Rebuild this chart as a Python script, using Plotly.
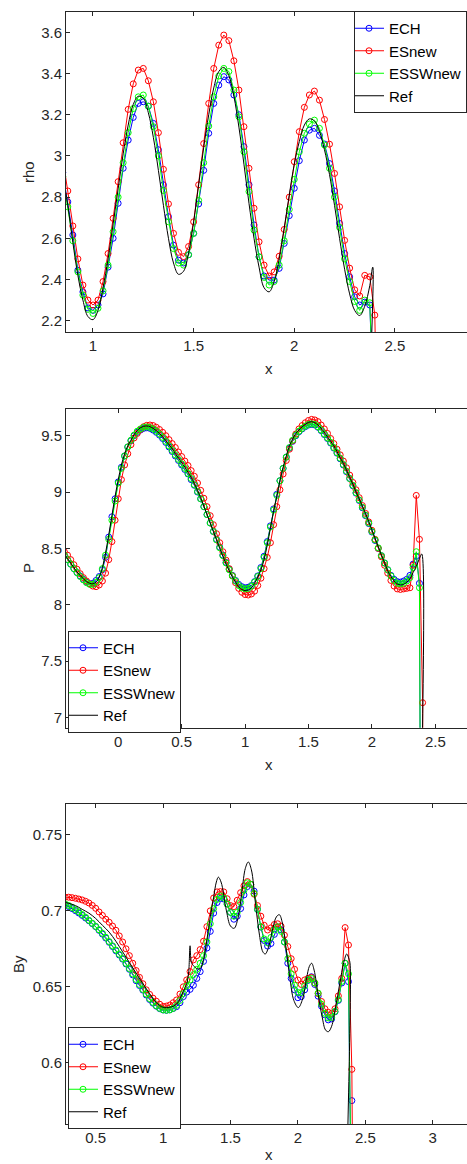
import plotly.graph_objects as go

# ---------------- data ----------------
series_names = ["ECH", "ESnew", "ESSWnew"]
series_colors = ["#0000ff", "#ff0000", "#00ff00"]

# ---- density rho ----
rho_x = [0.85, 0.875, 0.9, 0.925, 0.95, 0.975,
         1.0, 1.025, 1.05, 1.075, 1.1, 1.125, 1.15, 1.175,
         1.2, 1.225, 1.25, 1.275, 1.3, 1.325, 1.35, 1.375,
         1.4, 1.425, 1.45, 1.475, 1.5, 1.525, 1.55, 1.575,
         1.6, 1.625, 1.65, 1.675, 1.7, 1.725, 1.75, 1.775,
         1.8, 1.825, 1.85, 1.875, 1.9, 1.925, 1.95, 1.975,
         2.0, 2.025, 2.05, 2.075, 2.1, 2.125, 2.15, 2.175,
         2.2, 2.225, 2.25, 2.275, 2.3, 2.325, 2.35, 2.375,
         2.4, 2.425]
rho_ech = [2.92, 2.777, 2.616, 2.445, 2.34, 2.262,
           2.25, 2.276, 2.33, 2.46, 2.60, 2.77, 2.94, 3.077,
           3.187, 3.255, 3.263, 3.242, 3.158, 3.03, 2.86, 2.705,
           2.567, 2.494, 2.48, 2.52, 2.624, 2.767, 2.93, 3.11,
           3.255, 3.344, 3.385, 3.369, 3.296, 3.2, 3.045, 2.86,
           2.665, 2.51, 2.417, 2.397, 2.397, 2.454, 2.575, 2.71,
           2.843, 2.977, 3.077, 3.125, 3.134, 3.10, 3.058, 2.963,
           2.83, 2.672, 2.526, 2.413, 2.316, 2.276, 2.29, 2.276,
           1.2, 1.0]
rho_esnew = [2.99, 2.83, 2.66, 2.50, 2.373, 2.30,
             2.276, 2.30, 2.39, 2.526, 2.697, 2.875, 3.064, 3.226,
             3.35, 3.417, 3.425, 3.365, 3.263, 3.113, 2.935, 2.767,
             2.624, 2.532, 2.511, 2.56, 2.68, 2.86, 3.06, 3.255,
             3.425, 3.538, 3.587, 3.56, 3.462, 3.32, 3.142, 2.94,
             2.746, 2.583, 2.47, 2.417, 2.437, 2.513, 2.643, 2.80,
             2.972, 3.118, 3.236, 3.296, 3.315, 3.271, 3.177, 3.057,
             2.915, 2.753, 2.59, 2.455, 2.35, 2.32, 2.42, 2.413,
             2.227, 1.0]
rho_esswnew = [2.90, 2.753, 2.588, 2.437, 2.324, 2.255,
               2.235, 2.26, 2.345, 2.47, 2.632, 2.80, 2.967, 3.113,
               3.23, 3.287, 3.296, 3.241, 3.142, 3.0, 2.832, 2.68,
               2.55, 2.48, 2.47, 2.52, 2.624, 2.784, 2.967, 3.145,
               3.287, 3.388, 3.425, 3.41, 3.32, 3.19, 3.02, 2.827,
               2.64, 2.51, 2.41, 2.373, 2.39, 2.47, 2.588, 2.74,
               2.886, 3.02, 3.11, 3.155, 3.174, 3.134, 3.053, 2.94,
               2.80, 2.653, 2.50, 2.39, 2.293, 2.25, 2.30, 2.287,
               1.2, 1.0]
rho_ref_x = [0.85, 0.875, 0.9, 0.925, 0.95, 0.975,
             1.0, 1.025, 1.05, 1.075, 1.1, 1.125, 1.15, 1.175,
             1.2, 1.225, 1.25, 1.275, 1.3, 1.325, 1.35, 1.375,
             1.4, 1.425, 1.45, 1.475, 1.5, 1.525, 1.55, 1.575,
             1.6, 1.625, 1.65, 1.675, 1.7, 1.725, 1.75, 1.775,
             1.8, 1.825, 1.85, 1.875, 1.9, 1.925, 1.95, 1.975,
             2.0, 2.025, 2.05, 2.075, 2.1, 2.125, 2.15, 2.175,
             2.2, 2.225, 2.25, 2.275, 2.3, 2.325, 2.35, 2.375,
             2.39, 2.392, 2.425]
rho_ref = [2.90, 2.76, 2.58, 2.42, 2.30, 2.22,
           2.205, 2.25, 2.36, 2.50, 2.67, 2.84, 3.01, 3.15,
           3.25, 3.29, 3.28, 3.21, 3.09, 2.93, 2.76, 2.60,
           2.48, 2.425, 2.44, 2.53, 2.68, 2.86, 3.04, 3.20,
           3.33, 3.41, 3.43, 3.39, 3.29, 3.14, 2.96, 2.77,
           2.60, 2.46, 2.36, 2.34, 2.39, 2.50, 2.65, 2.81,
           2.96, 3.07, 3.15, 3.18, 3.17, 3.12, 3.03, 2.91,
           2.76, 2.60, 2.45, 2.33, 2.25, 2.225, 2.27, 2.37,
           2.46, 1.0, 1.0]

# ---- pressure P ----
p_x = [-0.425, -0.4, -0.375, -0.35, -0.325, -0.3, -0.275, -0.25, -0.225,
       -0.2, -0.175, -0.15, -0.125, -0.1, -0.075, -0.05, -0.025,
       0.0, 0.025, 0.05, 0.075, 0.1, 0.125, 0.15, 0.175,
       0.2, 0.225, 0.25, 0.275, 0.3, 0.325, 0.35, 0.375,
       0.4, 0.425, 0.45, 0.475, 0.5, 0.525, 0.55, 0.575,
       0.6, 0.625, 0.65, 0.675, 0.7, 0.725, 0.75, 0.775,
       0.8, 0.825, 0.85, 0.875, 0.9, 0.925, 0.95, 0.975,
       1.0, 1.025, 1.05, 1.075, 1.1, 1.125, 1.15, 1.175,
       1.2, 1.225, 1.25, 1.275, 1.3, 1.325, 1.35, 1.375,
       1.4, 1.425, 1.45, 1.475, 1.5, 1.525, 1.55, 1.575,
       1.6, 1.625, 1.65, 1.675, 1.7, 1.725, 1.75, 1.775,
       1.8, 1.825, 1.85, 1.875, 1.9, 1.925, 1.95, 1.975,
       2.0, 2.025, 2.05, 2.075, 2.1, 2.125, 2.15, 2.175,
       2.2, 2.225, 2.25, 2.275, 2.3, 2.325, 2.35, 2.375,
       2.4, 2.425]
p_ech = [8.44, 8.40, 8.36, 8.32, 8.285, 8.255, 8.225, 8.20, 8.185,
         8.19, 8.215, 8.25, 8.31, 8.42, 8.60, 8.78, 8.94,
         9.09, 9.22, 9.32, 9.40, 9.455, 9.50, 9.53, 9.55,
         9.565, 9.57, 9.565, 9.55, 9.53, 9.505, 9.475, 9.44,
         9.40, 9.36, 9.32, 9.28, 9.24, 9.20, 9.16, 9.11,
         9.06, 9.00, 8.94, 8.87, 8.80, 8.725, 8.65, 8.58,
         8.51, 8.44, 8.375, 8.315, 8.26, 8.215, 8.18, 8.16,
         8.15, 8.155, 8.17, 8.205, 8.255, 8.33, 8.43, 8.56,
         8.70, 8.85, 8.98, 9.10, 9.21, 9.31, 9.39, 9.45,
         9.50, 9.535, 9.56, 9.58, 9.595, 9.60, 9.595, 9.575,
         9.545, 9.51, 9.475, 9.435, 9.39, 9.345, 9.295, 9.24,
         9.18, 9.12, 9.055, 8.99, 8.925, 8.86, 8.79, 8.72,
         8.645, 8.57, 8.50, 8.435, 8.37, 8.31, 8.26, 8.225,
         8.205, 8.20, 8.21, 8.225, 8.26, 8.36, 8.43, 8.19,
         1.5, 1.0]
p_esnew = [8.47, 8.44, 8.40, 8.355, 8.315, 8.275, 8.24, 8.21, 8.185,
           8.165, 8.16, 8.175, 8.21, 8.28, 8.40, 8.56, 8.75,
           8.94, 9.11, 9.24, 9.34, 9.42, 9.48, 9.52, 9.555,
           9.58, 9.592, 9.595, 9.59, 9.575, 9.555, 9.53, 9.50,
           9.465, 9.43, 9.395, 9.355, 9.315, 9.275, 9.235, 9.19,
           9.14, 9.08, 9.015, 8.945, 8.87, 8.79, 8.71, 8.63,
           8.55, 8.47, 8.395, 8.32, 8.255, 8.195, 8.145, 8.11,
           8.09, 8.086, 8.095, 8.12, 8.17, 8.235, 8.32, 8.42,
           8.55, 8.71, 8.87, 9.02, 9.16, 9.28, 9.38, 9.455,
           9.515, 9.56, 9.59, 9.615, 9.635, 9.645, 9.64, 9.625,
           9.595, 9.56, 9.52, 9.475, 9.43, 9.38, 9.33, 9.275,
           9.215, 9.15, 9.085, 9.02, 8.95, 8.88, 8.81, 8.735,
           8.66, 8.58, 8.50, 8.425, 8.35, 8.28, 8.215, 8.165,
           8.14, 8.135, 8.14, 8.145, 8.15, 8.35, 8.97, 8.58,
           7.13, 1.0]
p_esswnew = [8.44, 8.40, 8.36, 8.32, 8.285, 8.25, 8.22, 8.195, 8.18,
             8.18, 8.20, 8.24, 8.32, 8.44, 8.58, 8.75, 8.92,
             9.08, 9.21, 9.32, 9.40, 9.46, 9.505, 9.54, 9.56,
             9.575, 9.578, 9.572, 9.56, 9.54, 9.515, 9.485, 9.45,
             9.41, 9.37, 9.33, 9.29, 9.25, 9.21, 9.165, 9.12,
             9.065, 9.005, 8.94, 8.87, 8.80, 8.725, 8.65, 8.575,
             8.505, 8.435, 8.37, 8.31, 8.255, 8.21, 8.17, 8.15,
             8.14, 8.145, 8.165, 8.20, 8.25, 8.32, 8.42, 8.55,
             8.69, 8.84, 8.97, 9.10, 9.21, 9.31, 9.395, 9.46,
             9.505, 9.54, 9.565, 9.585, 9.60, 9.605, 9.60, 9.58,
             9.55, 9.515, 9.48, 9.44, 9.395, 9.35, 9.30, 9.245,
             9.185, 9.12, 9.06, 8.995, 8.93, 8.865, 8.795, 8.725,
             8.65, 8.575, 8.505, 8.435, 8.37, 8.31, 8.255, 8.215,
             8.19, 8.185, 8.19, 8.21, 8.24, 8.33, 8.47, 8.15,
             1.5, 1.0]
p_ref_x = [-0.425, -0.4, -0.375, -0.35, -0.325, -0.3, -0.275, -0.25, -0.225,
           -0.2, -0.175, -0.15, -0.125, -0.1, -0.075, -0.05, -0.025,
           0.0, 0.025, 0.05, 0.075, 0.1, 0.125, 0.15, 0.175,
           0.2, 0.225, 0.25, 0.275, 0.3, 0.325, 0.35, 0.375,
           0.4, 0.425, 0.45, 0.475, 0.5, 0.525, 0.55, 0.575,
           0.6, 0.625, 0.65, 0.675, 0.7, 0.725, 0.75, 0.775,
           0.8, 0.825, 0.85, 0.875, 0.9, 0.925, 0.95, 0.975,
           1.0, 1.025, 1.05, 1.075, 1.1, 1.125, 1.15, 1.175,
           1.2, 1.225, 1.25, 1.275, 1.3, 1.325, 1.35, 1.375,
           1.4, 1.425, 1.45, 1.475, 1.5, 1.525, 1.55, 1.575,
           1.6, 1.625, 1.65, 1.675, 1.7, 1.725, 1.75, 1.775,
           1.8, 1.825, 1.85, 1.875, 1.9, 1.925, 1.95, 1.975,
           2.0, 2.025, 2.05, 2.075, 2.1, 2.125, 2.15, 2.175,
           2.2, 2.225, 2.25, 2.275, 2.3, 2.325, 2.35, 2.375,
           2.393, 2.395, 2.425]
p_ref = [8.45, 8.41, 8.37, 8.33, 8.29, 8.26, 8.23, 8.205, 8.19,
         8.185, 8.20, 8.245, 8.33, 8.46, 8.62, 8.79, 8.96,
         9.11, 9.24, 9.34, 9.41, 9.46, 9.51, 9.545, 9.57,
         9.583, 9.586, 9.58, 9.565, 9.545, 9.52, 9.49, 9.455,
         9.42, 9.385, 9.34, 9.30, 9.26, 9.22, 9.175, 9.13,
         9.075, 9.015, 8.95, 8.875, 8.80, 8.725, 8.65, 8.575,
         8.50, 8.43, 8.36, 8.30, 8.245, 8.20, 8.16, 8.135,
         8.125, 8.13, 8.15, 8.19, 8.245, 8.31, 8.40, 8.53,
         8.68, 8.83, 8.96, 9.10, 9.22, 9.32, 9.41, 9.47,
         9.52, 9.55, 9.58, 9.60, 9.618, 9.624, 9.615, 9.595,
         9.565, 9.53, 9.49, 9.45, 9.41, 9.36, 9.305, 9.255,
         9.195, 9.13, 9.07, 9.00, 8.94, 8.875, 8.81, 8.74,
         8.665, 8.59, 8.515, 8.44, 8.375, 8.30, 8.25, 8.21,
         8.185, 8.175, 8.18, 8.20, 8.23, 8.285, 8.34, 8.41,
         8.45, 1.0, 1.0]

# ---- magnetic field By ----
by_x = [0.275, 0.3, 0.325, 0.35, 0.375,
        0.4, 0.425, 0.45, 0.475, 0.5, 0.525, 0.55, 0.575,
        0.6, 0.625, 0.65, 0.675, 0.7, 0.725, 0.75, 0.775,
        0.8, 0.825, 0.85, 0.875, 0.9, 0.925, 0.95, 0.975,
        1.0, 1.025, 1.05, 1.075, 1.1, 1.125, 1.15, 1.175,
        1.2, 1.225, 1.25, 1.275, 1.3, 1.325, 1.35, 1.375,
        1.4, 1.425, 1.45, 1.475, 1.5, 1.525, 1.55, 1.575,
        1.6, 1.625, 1.65, 1.675, 1.7, 1.725, 1.75, 1.775,
        1.8, 1.825, 1.85, 1.875, 1.9, 1.925, 1.95, 1.975,
        2.0, 2.025, 2.05, 2.075, 2.1, 2.125, 2.15, 2.175,
        2.2, 2.225, 2.25, 2.275, 2.3, 2.325, 2.35, 2.375,
        2.4, 2.425]
by_ech = [0.704, 0.7028, 0.7015, 0.7001, 0.6986,
          0.697, 0.6953, 0.6935, 0.6916, 0.6896, 0.6872, 0.6847, 0.6821,
          0.6793, 0.6765, 0.6737, 0.6709, 0.6682, 0.665, 0.6615, 0.6578,
          0.654, 0.6508, 0.6478, 0.6446, 0.6416, 0.6392, 0.6372, 0.6356,
          0.6347, 0.6345, 0.6348, 0.6357, 0.6369, 0.6395, 0.6435, 0.6465,
          0.6483, 0.651, 0.6555, 0.66, 0.6667, 0.6755, 0.6865, 0.6985,
          0.7055, 0.7082, 0.7078, 0.7045, 0.699, 0.6945, 0.6965, 0.7015,
          0.7105, 0.716, 0.7175, 0.713, 0.701, 0.6893, 0.6805, 0.6768,
          0.6785, 0.6845, 0.6893, 0.6875, 0.6795, 0.6655, 0.6555, 0.648,
          0.6428, 0.6435, 0.648, 0.6542, 0.6566, 0.6515, 0.6438, 0.6372,
          0.6315, 0.6282, 0.6288, 0.6335, 0.641, 0.6525, 0.6655, 0.6534,
          0.575, 0.3]
by_esnew = [0.709, 0.709, 0.7087, 0.7083, 0.7078,
            0.7072, 0.7063, 0.7052, 0.7036, 0.7017, 0.6993, 0.697, 0.6945,
            0.6925, 0.69, 0.6872, 0.6835, 0.6795, 0.675, 0.6705, 0.6655,
            0.6607, 0.6562, 0.652, 0.648, 0.645, 0.6425, 0.6405, 0.6385,
            0.637, 0.6373, 0.638, 0.6395, 0.6413, 0.6452, 0.65, 0.6545,
            0.66, 0.6677, 0.6705, 0.6745, 0.68, 0.6896, 0.700, 0.7085,
            0.7125, 0.7127, 0.7125, 0.708, 0.7035, 0.7028, 0.707, 0.712,
            0.7165, 0.7193, 0.7175, 0.711, 0.7035, 0.6965, 0.6905, 0.6874,
            0.6888, 0.691, 0.6915, 0.6899, 0.684, 0.6765, 0.6685, 0.6615,
            0.6545, 0.6515, 0.6545, 0.6555, 0.6562, 0.6525, 0.6455, 0.6403,
            0.6355, 0.6332, 0.6325, 0.6355, 0.644, 0.6555, 0.689, 0.6775,
            0.5956, 0.3]
by_esswnew = [0.7045, 0.7035, 0.7022, 0.7008, 0.6993,
              0.6976, 0.6958, 0.6938, 0.6918, 0.6898, 0.6876, 0.6852, 0.6826,
              0.6798, 0.677, 0.6742, 0.6714, 0.6686, 0.6654, 0.662, 0.6585,
              0.6548, 0.6515, 0.6483, 0.6452, 0.6422, 0.6397, 0.6375, 0.6358,
              0.6348, 0.6345, 0.6348, 0.6358, 0.6378, 0.641, 0.6455, 0.6505,
              0.6545, 0.658, 0.6615, 0.6655, 0.6705, 0.6795, 0.6915, 0.7015,
              0.7075, 0.7098, 0.7085, 0.7045, 0.699, 0.6965, 0.699, 0.7055,
              0.7135, 0.7185, 0.7175, 0.7115, 0.701, 0.6895, 0.6815, 0.679,
              0.6825, 0.6875, 0.6895, 0.6865, 0.6795, 0.6685, 0.6585, 0.651,
              0.6462, 0.6462, 0.6505, 0.6545, 0.6555, 0.6525, 0.6458, 0.6385,
              0.6325, 0.6295, 0.6298, 0.6338, 0.6415, 0.6535, 0.6655, 0.6585,
              0.35, 0.3]
by_ref_x = [0.275, 0.3, 0.35, 0.4, 0.45, 0.5, 0.55, 0.6, 0.65, 0.7,
            0.75, 0.8, 0.85, 0.9, 0.95, 1.0, 1.05, 1.1, 1.15, 1.175,
            1.19, 1.2, 1.21, 1.225, 1.25, 1.275, 1.3, 1.325, 1.35, 1.375,
            1.395, 1.41, 1.43, 1.47, 1.5, 1.527, 1.555, 1.585, 1.61, 1.632,
            1.655, 1.685, 1.715, 1.74, 1.758, 1.785, 1.815, 1.84, 1.862, 1.885,
            1.91, 1.94, 1.97, 2.003, 2.035, 2.065, 2.085, 2.102, 2.12, 2.15,
            2.18, 2.205, 2.226, 2.25, 2.28, 2.31, 2.34, 2.362, 2.38, 2.387,
            2.389, 2.425]
by_ref = [0.7055, 0.705, 0.7035, 0.701, 0.6985, 0.695, 0.6905, 0.686, 0.680, 0.673,
          0.666, 0.659, 0.652, 0.6455, 0.6395, 0.6365, 0.6365, 0.6385, 0.647, 0.652,
          0.660, 0.677, 0.666, 0.664, 0.662, 0.662, 0.668, 0.681, 0.696, 0.709,
          0.719, 0.7222, 0.719, 0.700, 0.690, 0.6885, 0.695, 0.713, 0.728, 0.7322,
          0.727, 0.705, 0.684, 0.673, 0.6716, 0.677, 0.689, 0.696, 0.6975, 0.692,
          0.677, 0.656, 0.641, 0.6363, 0.642, 0.656, 0.6635, 0.6655, 0.661, 0.645,
          0.630, 0.6215, 0.6204, 0.624, 0.637, 0.652, 0.666, 0.6716, 0.668, 0.665,
          0.3, 0.3]

# tick labels
rho_xticks = [1, 1.5, 2, 2.5]
rho_yticks = [2.2, 2.4, 2.6, 2.8, 3.0, 3.2, 3.4, 3.6]
rho_yticklabels = ["2.2", "2.4", "2.6", "2.8", "3", "3.2", "3.4", "3.6"]
p_xticks = [0, 0.5, 1, 1.5, 2, 2.5]
p_yticks = [7, 7.5, 8, 8.5, 9, 9.5]
p_yticklabels = ["7", "7.5", "8", "8.5", "9", "9.5"]
by_xticks = [0.5, 1, 1.5, 2, 2.5, 3]
by_yticks = [0.6, 0.65, 0.7, 0.75]
by_yticklabels = ["0.6", "0.65", "0.7", "0.75"]

# ---------------- figure ----------------
W, H = 467, 1164
FONT = "Liberation Sans, Arial, Helvetica, sans-serif"
AX = "#262626"

fig = go.Figure()


def add_panel(xs, ys_list, refx, refy, xa, ya, leg):
    for name, color, ys in zip(series_names, series_colors, ys_list):
        fig.add_trace(go.Scatter(
            x=xs, y=ys, name=name, mode="lines+markers",
            line=dict(color=color, width=1),
            marker=dict(symbol="circle-open", size=6, color=color,
                        line=dict(width=1, color=color)),
            xaxis=xa, yaxis=ya, legend=leg))
    fig.add_trace(go.Scatter(
        x=refx, y=refy, name="Ref", mode="lines",
        line=dict(color="black", width=1, shape="spline"),
        xaxis=xa, yaxis=ya, legend=leg))


add_panel(rho_x, [rho_ech, rho_esnew, rho_esswnew], rho_ref_x, rho_ref, "x", "y", "legend")
add_panel(p_x, [p_ech, p_esnew, p_esswnew], p_ref_x, p_ref, "x2", "y2", "legend2")
add_panel(by_x, [by_ech, by_esnew, by_esswnew], by_ref_x, by_ref, "x3", "y3", "legend3")


def py(p):
    return 1 - p / H


axis_common = dict(showline=True, linecolor=AX, linewidth=1, ticks="inside",
                   ticklen=4, tickcolor=AX, tickwidth=1,
                   tickfont=dict(family=FONT, size=15, color=AX),
                   showgrid=False, zeroline=False)
xdom = [66 / W, 1.0]

legend_common = dict(xanchor="left", yanchor="top", bgcolor="white",
                     bordercolor=AX, borderwidth=1,
                     font=dict(family=FONT, size=15, color="black"),
                     tracegroupgap=0, itemwidth=30, indentation=-6)

fig.update_layout(
    width=W, height=H,
    margin=dict(l=0, r=0, t=0, b=0, autoexpand=False),
    paper_bgcolor="white", plot_bgcolor="white", showlegend=True,
    xaxis=dict(domain=xdom, range=[0.866, 2.858], anchor="y", mirror="ticks",
               tickvals=rho_xticks, **axis_common),
    yaxis=dict(domain=[py(332), py(12)], range=[2.145, 3.699], anchor="x",
               tickvals=rho_yticks, ticktext=rho_yticklabels, **axis_common),
    xaxis2=dict(domain=xdom, range=[-0.412, 2.75], anchor="y2", mirror="ticks",
                tickvals=p_xticks, **axis_common),
    yaxis2=dict(domain=[py(727.7), py(409)], range=[6.908, 9.737], anchor="x2",
                tickvals=p_yticks, ticktext=p_yticklabels, **axis_common),
    xaxis3=dict(domain=xdom, range=[0.28, 3.254], anchor="y3", mirror="ticks",
                tickvals=by_xticks, **axis_common),
    yaxis3=dict(domain=[py(1124), py(804.3)], range=[0.5596, 0.7702], anchor="x3",
                tickvals=by_yticks, ticktext=by_yticklabels, **axis_common),
    legend=dict(x=354 / W, y=py(11), **legend_common),
    legend2=dict(x=68 / W, y=py(630.5), **legend_common),
    legend3=dict(x=68 / W, y=py(1027), **legend_common),
)

labels = [("rho", 28, 172, -90), ("x", 269, 368, 0),
          ("P", 28, 568, -90), ("x", 269, 764, 0),
          ("By", 18, 964, -90), ("x", 269, 1154, 0)]
for text, px_, py_, ang in labels:
    fig.add_annotation(text=text, x=px_ / W, y=py(py_), xref="paper", yref="paper",
                       showarrow=False, textangle=ang, xanchor="center", yanchor="middle",
                       font=dict(family=FONT, size=15, color=AX))

fig.write_html("out.html")
